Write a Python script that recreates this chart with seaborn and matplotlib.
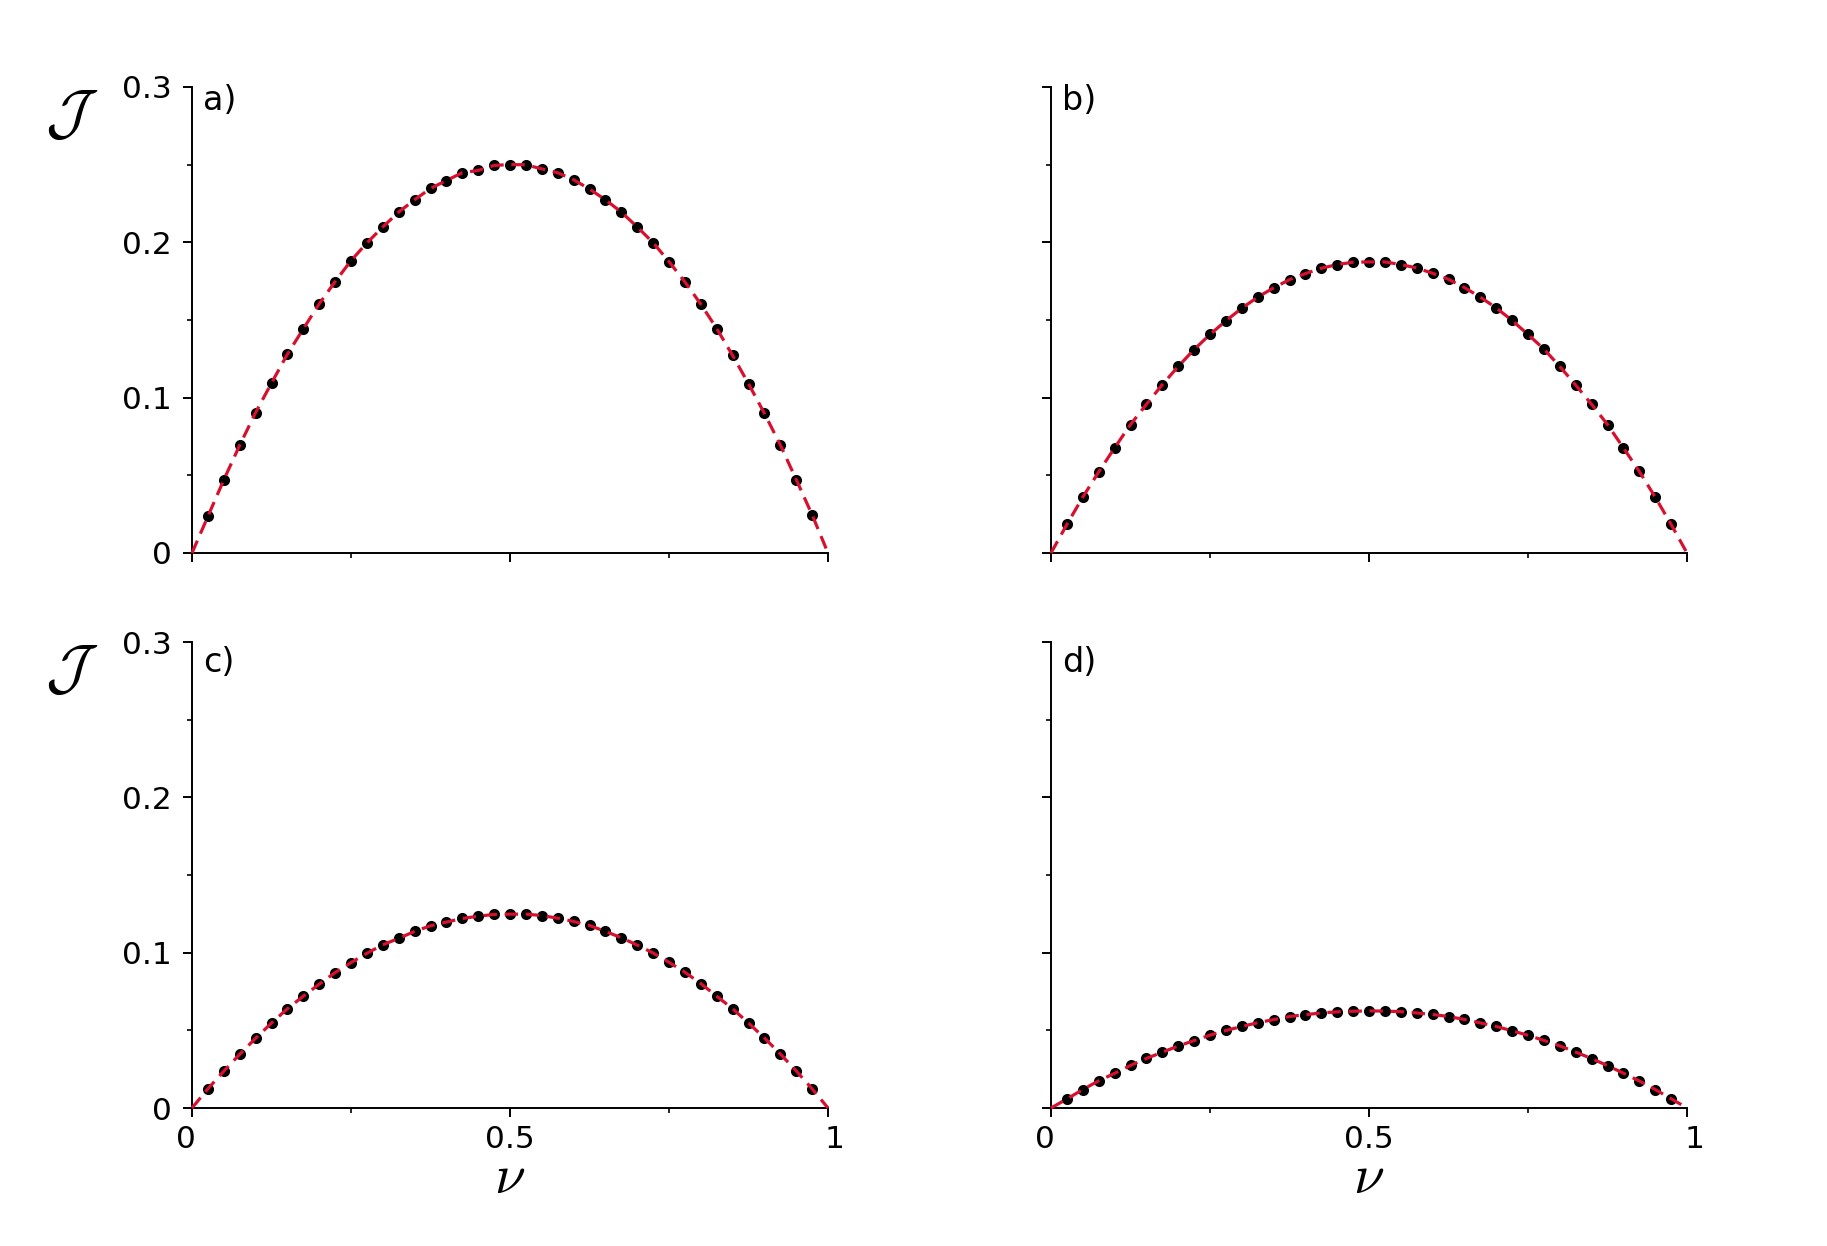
import numpy as np
import pandas as pd
import matplotlib
matplotlib.use('Agg')
import matplotlib.pyplot as plt
import matplotlib.transforms as mtransforms
import seaborn as sns

# ── data ──────────────────────────────────────────────────────────
nu = [0.025, 0.05, 0.075, 0.1, 0.125, 0.15, 0.175, 0.2, 0.225, 0.25,
      0.275, 0.3, 0.325, 0.35, 0.375, 0.4, 0.425, 0.45, 0.475, 0.5,
      0.525, 0.55, 0.575, 0.6, 0.625, 0.65, 0.675, 0.7, 0.725, 0.75,
      0.775, 0.8, 0.825, 0.85, 0.875, 0.9, 0.925, 0.95, 0.975]

J_a = [0.0236, 0.0471, 0.0694, 0.0904, 0.1094, 0.1280, 0.1443, 0.1604, 0.1747, 0.1882,
       0.1996, 0.2099, 0.2195, 0.2274, 0.2347, 0.2398, 0.2448, 0.2463, 0.2495, 0.2501,
       0.2499, 0.2473, 0.2448, 0.2403, 0.2343, 0.2274, 0.2195, 0.2099, 0.1998, 0.1876,
       0.1745, 0.1602, 0.1445, 0.1272, 0.1090, 0.0899, 0.0696, 0.0473, 0.0246]

J_b = [0.0184, 0.0360, 0.0522, 0.0677, 0.0827, 0.0957, 0.1084, 0.1201, 0.1310, 0.1407,
       0.1495, 0.1576, 0.1647, 0.1707, 0.1760, 0.1799, 0.1833, 0.1857, 0.1872, 0.1874,
       0.1874, 0.1857, 0.1835, 0.1801, 0.1762, 0.1709, 0.1647, 0.1578, 0.1497, 0.1407,
       0.1313, 0.1201, 0.1081, 0.0957, 0.0827, 0.0677, 0.0525, 0.0360, 0.0184]

J_c = [0.0124, 0.0237, 0.0346, 0.0449, 0.0547, 0.0639, 0.0720, 0.0797, 0.0872, 0.0936,
       0.0996, 0.1051, 0.1092, 0.1137, 0.1173, 0.1197, 0.1220, 0.1235, 0.1246, 0.1248,
       0.1248, 0.1239, 0.1222, 0.1201, 0.1175, 0.1137, 0.1096, 0.1049, 0.0998, 0.0938,
       0.0874, 0.0801, 0.0720, 0.0639, 0.0547, 0.0451, 0.0348, 0.0239, 0.0124]

J_d = [0.0058, 0.0119, 0.0175, 0.0223, 0.0274, 0.0319, 0.0359, 0.0399, 0.0434, 0.0469,
       0.0499, 0.0525, 0.0549, 0.0569, 0.0589, 0.0601, 0.0612, 0.0619, 0.0623, 0.0625,
       0.0624, 0.0620, 0.0612, 0.0602, 0.0589, 0.0570, 0.0548, 0.0525, 0.0497, 0.0468,
       0.0435, 0.0400, 0.0360, 0.0318, 0.0273, 0.0224, 0.0174, 0.0119, 0.0060]

panel_labels = ['a)', 'b)', 'c)', 'd)']
x_ticks = [0, 0.5, 1]
x_ticklabels = ['0', '0.5', '1']
y_ticks = [0, 0.1, 0.2, 0.3]
y_ticklabels = ['0', '0.1', '0.2', '0.3']

RED = '#d6102e'

sns.set_style('ticks')
plt.rcParams['font.family'] = ['DejaVu Sans']
plt.rcParams['mathtext.fontset'] = 'cm'
for key in ['text.color', 'axes.labelcolor', 'xtick.color', 'ytick.color', 'axes.edgecolor']:
    plt.rcParams[key] = 'black'

fig = plt.figure(figsize=(18.27, 12.46), dpi=100)
W, H = 1827, 1246
boxes = [(192, 87), (1051, 87), (192, 642), (1051, 642)]   # left, top in px
aw, ah = 636, 466

series = [J_a, J_b, J_c, J_d]
for i, (J, lab) in enumerate(zip(series, panel_labels)):
    l, t = boxes[i]
    ax = fig.add_axes([l / W, 1 - (t + ah) / H, aw / W, ah / H])
    dots = pd.DataFrame({'nu': nu, 'J': J})
    curve = pd.DataFrame({'nu': [0.0] + nu + [1.0], 'J': [0.0] + J + [0.0]})

    sns.scatterplot(data=dots, x='nu', y='J', ax=ax, color='black', s=64,
                    linewidth=0, zorder=2, clip_on=False)
    sns.lineplot(data=curve, x='nu', y='J', ax=ax, color=RED, lw=2.3,
                 dashes=False, zorder=3, clip_on=False)
    ax.lines[-1].set_linestyle((0, (4.2, 2.4)))

    ax.set_xlim(0, 1)
    ax.set_ylim(0, 0.3)
    sns.despine(ax=ax)
    for sp in ax.spines.values():
        sp.set_linewidth(1.4)
    ax.set_xticks(x_ticks)
    ax.set_xticks([0.25, 0.75], minor=True)
    ax.set_yticks(y_ticks)
    ax.set_yticks([0.05, 0.15, 0.25], minor=True)
    ax.tick_params(which='major', length=6.5, width=1.4, labelsize=22.5)
    ax.tick_params(which='minor', length=3.5, width=1.2)
    ax.tick_params(axis='y', which='major', pad=8)
    ax.tick_params(axis='x', which='major', pad=6)

    if i < 2:
        ax.set_xticklabels([])
    else:
        ax.set_xticklabels(x_ticklabels)
        # first and last labels sit a bit outward in the reference
        for tl, dx in zip(ax.get_xticklabels(), [-6, 0, 7]):
            tl.set_transform(tl.get_transform() +
                             mtransforms.ScaledTranslation(dx / 100, 0, fig.dpi_scale_trans))
        ax.text(0.5, -0.15, r'$\nu$', transform=ax.transAxes,
                ha='center', va='center', fontsize=40)
    if i % 2 == 1:
        ax.set_yticklabels([])
    else:
        ax.set_yticklabels(y_ticklabels)
        ax.text(-0.19, 0.936, r'$\mathcal{J}$', transform=ax.transAxes,
                ha='center', va='center', fontsize=44)
    ax.set_xlabel('')
    ax.set_ylabel('')
    lab_y = 0.97 if i < 2 else 0.955
    ax.text(0.017, lab_y, lab, transform=ax.transAxes, ha='left', va='center',
            fontsize=24)

fig.savefig('out.png', dpi=100, facecolor='white')
plt.close(fig)
